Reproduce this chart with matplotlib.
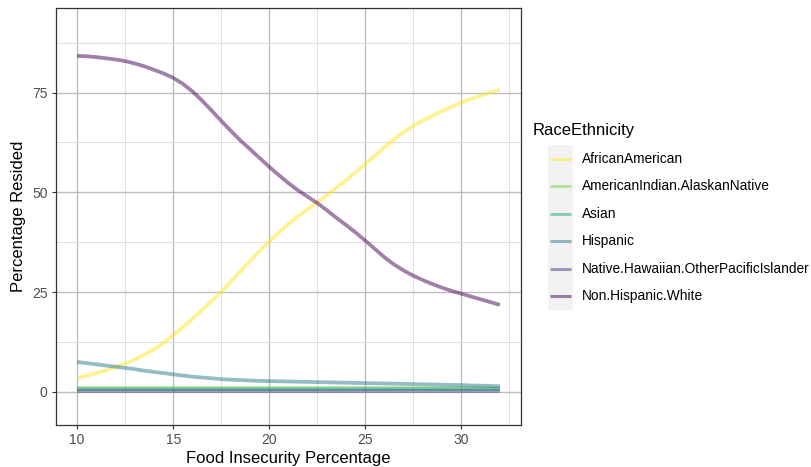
import numpy as np
import matplotlib
matplotlib.use('Agg')
from matplotlib import pyplot as plt
from matplotlib.lines import Line2D
from matplotlib.patches import Rectangle

### data ###

# x grid: food insecurity percentage, 10 to 32 in half steps
food_insecurity = np.arange(10, 32.5, 0.5)

african_american = [3.5, 4.1, 4.7, 5.4, 6.2, 7.1, 8.1, 9.3, 10.7, 12.3, 14.2, 16.2, 18.3, 20.5, 22.8,
                    25.1, 27.6, 30.2, 32.8, 35.3, 37.7, 40.0, 42.1, 44.0, 45.8, 47.5, 49.3, 51.2, 53.1,
                    55.1, 57.1, 59.2, 61.3, 63.3, 65.1, 66.7, 68.0, 69.2, 70.4, 71.5, 72.5, 73.4, 74.2,
                    75.0, 75.8]
american_indian = [0.85] * 45
asian = [0.6] * 45
hispanic = [7.5, 7.2, 6.9, 6.6, 6.3, 6.0, 5.7, 5.3, 5.0, 4.7, 4.4, 4.1, 3.8, 3.6, 3.4,
            3.2, 3.05, 2.95, 2.85, 2.75, 2.7, 2.65, 2.6, 2.55, 2.5, 2.45, 2.4, 2.35, 2.3,
            2.25, 2.2, 2.15, 2.1, 2.05, 2.0, 1.95, 1.9, 1.85, 1.8, 1.75, 1.7, 1.6, 1.55,
            1.5, 1.4]
native_hawaiian = [0.1] * 45
non_hispanic_white = [84.2, 84.1, 83.9, 83.6, 83.3, 82.9, 82.3, 81.6, 80.7, 79.8, 78.7, 77.2, 75.3, 73.0,
                      70.5, 67.9, 65.4, 63.0, 60.8, 58.6, 56.4, 54.3, 52.3, 50.5, 48.9, 47.3, 45.5,
                      43.6, 41.8, 39.9, 37.9, 35.8, 33.7, 31.9, 30.4, 29.1, 28.0, 27.0, 26.1, 25.3,
                      24.6, 23.9, 23.2, 22.5, 21.8]

groups = ['AfricanAmerican', 'AmericanIndian.AlaskanNative', 'Asian', 'Hispanic',
          'Native.Hawaiian.OtherPacificIslander', 'Non.Hispanic.White']
series = [african_american, american_indian, asian, hispanic, native_hawaiian, non_hispanic_white]
colors = ['#FDE725', '#7AD151', '#22A884', '#2A788E', '#414487', '#440154']

### style ###

plt.rcParams['font.family'] = ['Liberation Sans', 'DejaVu Sans']

W, H = 811, 467
fig = plt.figure(figsize=(W / 100, H / 100), dpi=100)
ax = fig.add_axes([56 / W, 1 - 425 / H, (521 - 56) / W, (425 - 8) / H])

for ys, c in zip(series, colors):
    ax.plot(food_insecurity, ys, color=c, alpha=0.5, lw=2.7, solid_capstyle='butt',
            solid_joinstyle='round', zorder=3)

ax.set_xlim(8.9, 33.1)
ax.set_ylim(-8.3, 96.2)
ax.set_xticks([10, 15, 20, 25, 30])
ax.set_yticks([0, 25, 50, 75])
ax.set_xticks(np.arange(12.5, 33, 5), minor=True)
ax.set_yticks([12.5, 37.5, 62.5, 87.5], minor=True)
ax.grid(which='major', color='#bdbdbd', lw=1.0)
ax.grid(which='minor', color='#e0e0e0', lw=0.8)
ax.set_axisbelow(True)
for s in ax.spines.values():
    s.set_color('#333333')
    s.set_linewidth(0.9)
ax.tick_params(which='major', length=3, width=0.8, color='#333333',
               labelsize=10, labelcolor='#4d4d4d', pad=3)
ax.tick_params(which='minor', length=0)

ax.set_xlabel('Food Insecurity Percentage', fontsize=12, labelpad=3)
ax.set_ylabel('Percentage Resided', fontsize=12, labelpad=4)

### legend (drawn by hand, ggplot style) ###

fig.text(533 / W, 1 - 130 / H, 'RaceEthnicity', fontsize=12, va='center', ha='left')
fig.add_artist(Rectangle((548 / W, 1 - 310 / H), 25 / W, 165 / H,
                         transform=fig.transFigure, color='#f2f2f2', lw=0))
for i, (g, c) in enumerate(zip(groups, colors)):
    y = 1 - (159 + i * 27.4) / H
    fig.add_artist(Line2D([550 / W, 571 / W], [y, y], transform=fig.transFigure,
                          color=c, alpha=0.5, lw=2.2, solid_capstyle='butt'))
    fig.text(582 / W, y, g, fontsize=9.9, va='center', ha='left')

fig.savefig('out.png', dpi=100)
